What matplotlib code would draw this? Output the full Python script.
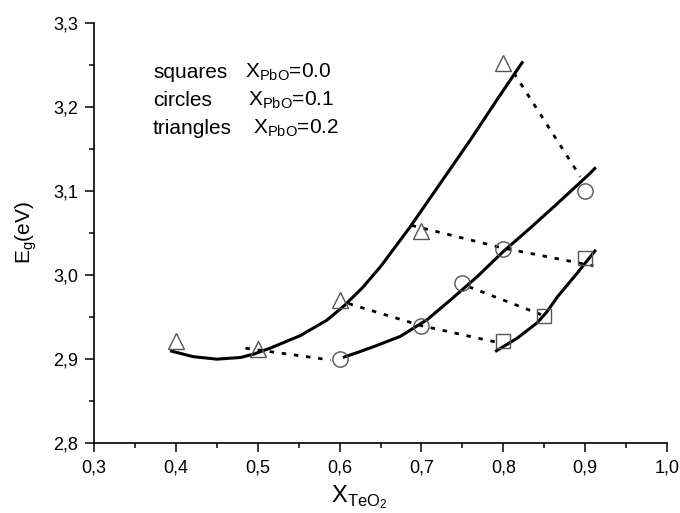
import matplotlib
matplotlib.use("Agg")
import matplotlib.pyplot as plt

plt.rcParams['font.family'] = ['Liberation Sans', 'DejaVu Sans']
plt.rcParams['mathtext.fontset'] = 'custom'
plt.rcParams['mathtext.rm'] = 'Liberation Sans'

# measured points
tri_x = [0.4, 0.5, 0.6, 0.7, 0.8]
tri_y = [2.922, 2.912, 2.970, 3.052, 3.252]
cir_x = [0.6, 0.7, 0.75, 0.8, 0.9]
cir_y = [2.900, 2.940, 2.990, 3.031, 3.100]
sq_x = [0.8, 0.85, 0.9]
sq_y = [2.921, 2.951, 3.020]

# fitted curves
tri_fit_x = [0.393, 0.421, 0.450, 0.479, 0.495, 0.515, 0.552, 0.584, 0.605,
             0.628, 0.650, 0.686, 0.723, 0.760, 0.792, 0.824]
tri_fit_y = [2.910, 2.903, 2.900, 2.902, 2.906, 2.913, 2.928, 2.946, 2.963,
             2.985, 3.010, 3.057, 3.109, 3.161, 3.208, 3.254]
cir_fit_x = [0.604, 0.622, 0.642, 0.674, 0.707, 0.735, 0.768, 0.800, 0.833,
             0.866, 0.906, 0.913]
cir_fit_y = [2.902, 2.908, 2.915, 2.927, 2.947, 2.970, 2.998, 3.028, 3.056,
             3.085, 3.121, 3.128]
sq_fit_x = [0.790, 0.817, 0.841, 0.853, 0.866, 0.890, 0.913]
sq_fit_y = [2.909, 2.925, 2.943, 2.956, 2.974, 3.002, 3.030]

# dashed tie lines
ties = [
    ([0.485, 0.589], [2.913, 2.899]),
    ([0.611, 0.699, 0.797], [2.966, 2.940, 2.919]),
    ([0.758, 0.846], [2.986, 2.953]),
    ([0.688, 0.800, 0.910], [3.059, 3.032, 3.011]),
    ([0.813, 0.894], [3.240, 3.117]),
]

xticks = [0.3, 0.4, 0.5, 0.6, 0.7, 0.8, 0.9, 1.0]
xticklabels = ['0,3', '0,4', '0,5', '0,6', '0,7', '0,8', '0,9', '1,0']
yticks = [2.8, 2.9, 3.0, 3.1, 3.2, 3.3]
yticklabels = ['2,8', '2,9', '3,0', '3,1', '3,2', '3,3']

fig = plt.figure(figsize=(6.8, 5.13), dpi=100)
ax = fig.add_axes([0.1382, 0.1359, 0.8428, 0.8199])

for xs, ys in ties:
    ax.plot(xs, ys, color='black', lw=2.0, linestyle=(0, (1.6, 2.8)), zorder=2)

for xs, ys in [(tri_fit_x, tri_fit_y), (cir_fit_x, cir_fit_y), (sq_fit_x, sq_fit_y)]:
    ax.plot(xs, ys, color='black', lw=2.2, solid_capstyle='butt',
            solid_joinstyle='round', zorder=3)

mk = dict(linestyle='none', markerfacecolor='none', markeredgecolor='#555555',
          markeredgewidth=1.0, zorder=4)
ax.plot(tri_x, tri_y, marker='^', markersize=12, **mk)
ax.plot(cir_x, cir_y, marker='o', markersize=11, **mk)
ax.plot(sq_x, sq_y, marker='s', markersize=10, **mk)

ax.set_xlim(0.3, 1.0)
ax.set_ylim(2.8, 3.3)
ax.set_xticks(xticks)
ax.set_xticklabels(xticklabels)
ax.set_yticks(yticks)
ax.set_yticklabels(yticklabels)
ax.set_xticks([0.35, 0.45, 0.55, 0.65, 0.75, 0.85, 0.95], minor=True)
ax.set_yticks([2.85, 2.95, 3.05, 3.15, 3.25], minor=True)

for side in ['top', 'right']:
    ax.spines[side].set_visible(False)
for side in ['left', 'bottom']:
    ax.spines[side].set_linewidth(1.2)
ax.tick_params(which='major', direction='out', length=6.5, width=1.1,
               labelsize=13, pad=5)
ax.tick_params(which='minor', direction='out', length=3.5, width=1.1)

ax.set_ylabel(r'E$_\mathregular{g}$(eV)', fontsize=15, labelpad=10)
# x label sits at the very bottom edge
fig.text(0.528, 0.004, r'X$_\mathregular{TeO_2}$', fontsize=17, ha='center', va='bottom')

names = ['squares', 'circles', 'triangles']
vals = ['0.0', '0.1', '0.2']
name_px = 153
val_px = [245, 248, 253]
row_py = [72, 100, 128]
for n, v, vx, ry in zip(names, vals, val_px, row_py):
    fig.text(name_px / 680, 1 - ry / 513, n, fontsize=15, va='center')
    fig.text(vx / 680, 1 - ry / 513, r'X$_\mathregular{PbO}$=' + v, fontsize=15,
             va='center')

fig.savefig('out.png', dpi=100)
